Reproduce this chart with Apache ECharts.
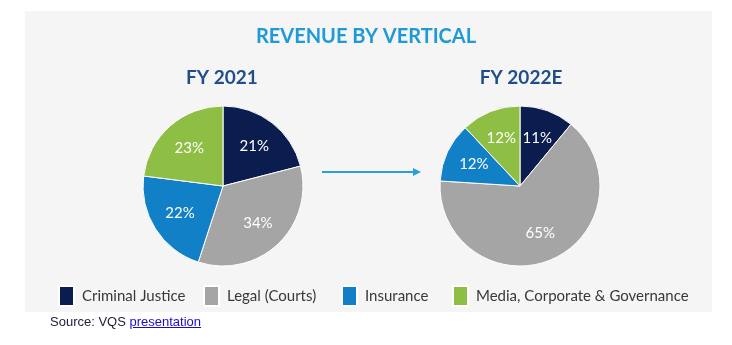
<!DOCTYPE html>
<html>
<head>
<meta charset="utf-8">
<script src="https://cdn.jsdelivr.net/npm/echarts@6/dist/echarts.min.js"></script>
<style>
html,body{margin:0;padding:0;background:#fff;}
#chart{width:732px;height:345px;position:relative;}
#src{position:absolute;left:50px;top:314px;font:13px "Liberation Sans",Arial,sans-serif;color:#1c1c3a;}
#src a{color:#1a0dcc;text-decoration:underline;}
</style>
</head>
<body>
<div id="chart"></div>
<div id="src">Source: VQS <a href="#">presentation</a></div>
<script>
const categories = ['Criminal Justice', 'Legal (Courts)', 'Insurance', 'Media, Corporate & Governance'];
const colors = ['#0b1d4e', '#a5a5a5', '#1180c6', '#8fbe45'];
const fy2021 = [21, 34, 22, 23];
const fy2022e = [11, 65, 12, 12];
const pieTitles = ['FY 2021', 'FY 2022E'];

const chart = echarts.init(document.getElementById('chart'), null, {renderer: 'canvas'});
const FONT = 'Lato, "Liberation Sans", sans-serif';

function mk(vals) {
  return vals.map((v, i) => ({name: categories[i], value: v, itemStyle: {color: colors[i]}}));
}
function pieSeries(vals, cx) {
  return [{
    type: 'pie', center: [cx, 186], radius: [0, 80], startAngle: 90, clockwise: true,
    data: mk(vals), label: {show: false}, labelLine: {show: false},
    itemStyle: {borderColor: '#ffffff', borderWidth: 1}, silent: true, animation: false
  }, {
    type: 'pie', center: [cx, 186], radius: [0, 96], startAngle: 90, clockwise: true,
    data: vals.map((v, i) => ({name: categories[i], value: v})),
    itemStyle: {color: 'rgba(0,0,0,0)'}, labelLine: {show: false},
    label: {show: true, position: 'inside', formatter: '{c}%', color: '#ffffff', fontSize: 15, fontFamily: FONT},
    silent: true, animation: false, z: 5
  }];
}
const legendX = [53, 198, 336, 447];
const legends = categories.map((c, i) => ({
  left: legendX[i], top: 280, itemWidth: 15, itemHeight: 20, icon: 'rect',
  selectedMode: false,
  data: [{name: c, itemStyle: {color: colors[i]}}],
  textStyle: {fontSize: 15, color: '#383838', fontFamily: FONT, padding: [0, 0, 0, 3]}
}));

chart.setOption({
  backgroundColor: '#ffffff',
  animation: false,
  title: {
    text: 'REVENUE BY VERTICAL', left: 'center', top: 22,
    textStyle: {color: '#1f9ad6', fontSize: 20, fontWeight: 'bold', fontFamily: FONT}
  },
  legend: legends,
  graphic: [
    {type: 'rect', z: -10, shape: {x: 25, y: 11, width: 687, height: 301}, style: {fill: '#f5f5f5'}},
    {type: 'text', style: {text: pieTitles[0], x: 222, y: 78, textAlign: 'center', textVerticalAlign: 'middle', fill: '#1f4e8a', font: 'bold 19px ' + FONT}},
    {type: 'text', style: {text: pieTitles[1], x: 521, y: 78, textAlign: 'center', textVerticalAlign: 'middle', fill: '#1f4e8a', font: 'bold 19px ' + FONT}},
    {type: 'line', shape: {x1: 322, y1: 172, x2: 414, y2: 172}, style: {stroke: '#2a9fd8', lineWidth: 2}},
    {type: 'polygon', shape: {points: [[413, 168], [421, 172], [413, 176]]}, style: {fill: '#2a9fd8'}}
  ],
  series: [...pieSeries(fy2021, 223), ...pieSeries(fy2022e, 520)]
});
</script>
</body>
</html>
